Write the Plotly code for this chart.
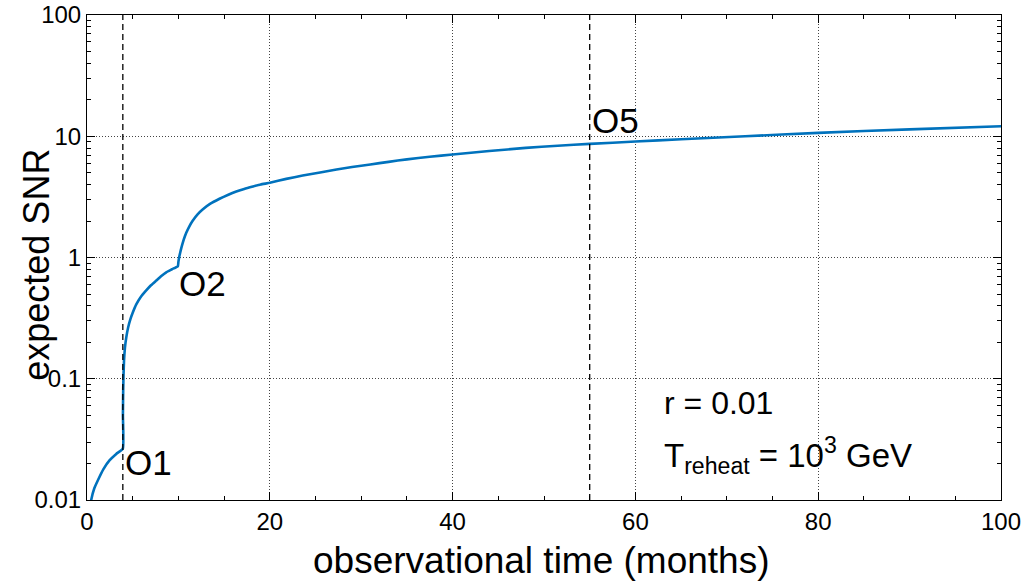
import plotly.graph_objects as go

# observational time (months) and expected SNR
time_months = [0.25, 0.46, 0.8, 1.18, 1.8, 2.46, 3.2, 3.92,
               3.93, 3.96, 4.0, 4.05, 4.15, 4.3, 4.5, 4.75, 5.0, 5.39, 5.9,
               6.48, 7.0, 7.58, 8.1, 8.67, 9.3, 9.94,
               10.0, 10.1, 10.2, 10.31, 10.5, 10.7, 10.86, 11.2, 11.58,
               12.1, 12.68, 13.5, 14.5, 15.4, 16.33, 17.2, 18.15, 19.0, 20.0,
               21.8, 23.6, 25.5, 27.3, 29.0, 31.0, 33.0, 35.0, 37.5, 40.0,
               44.0, 48.0, 51.5, 55.0, 60.0, 65.0, 72.0, 80.0, 90.0, 100.0]
snr = [0.0075, 0.0100, 0.0125, 0.0145, 0.018, 0.0212, 0.024, 0.0265,
       0.05, 0.08, 0.11, 0.14, 0.18, 0.22, 0.265, 0.31, 0.35, 0.41, 0.475,
       0.535, 0.59, 0.645, 0.70, 0.755, 0.80, 0.848,
       0.92, 1.02, 1.10, 1.19, 1.34, 1.49, 1.60, 1.81, 2.02,
       2.27, 2.50, 2.78, 3.05, 3.28, 3.50, 3.68, 3.85, 4.00, 4.13,
       4.45, 4.74, 5.03, 5.31, 5.57, 5.85, 6.15, 6.45, 6.77, 7.07,
       7.55, 8.02, 8.35, 8.65, 9.04, 9.45, 10.0, 10.67, 11.4, 12.09]

run_marks_x = [3.92, 55.0]          # dashed run boundaries
x_ticks = [0, 20, 40, 60, 80, 100]
y_ticks = [0.01, 0.1, 1, 10, 100]
y_ticktext = ["0.01", "0.1", "1", "10", "100"]
y_minor_ticks = [k * 10.0 ** e for e in (-2, -1, 0, 1) for k in range(2, 10)]

FONT = "Liberation Sans, Arial, Helvetica, sans-serif"
BLUE = "#0072BD"

fig = go.Figure()
fig.add_trace(go.Scatter(x=time_months, y=snr, mode="lines",
                         line=dict(color=BLUE, width=2.6, shape="spline", smoothing=0.4),
                         showlegend=False, hoverinfo="skip"))

for xv in run_marks_x:
    fig.add_shape(type="line", xref="x", yref="paper", x0=xv, x1=xv,
                  y0=0, y1=1, line=dict(color="black", width=1.3, dash="6px,4px"))

axis_common = dict(
    showline=True, linecolor="black", linewidth=1, mirror="allticks",
    ticks="inside", ticklen=8, tickcolor="black", tickwidth=1,
    showgrid=True, gridcolor="#444444", griddash="1px,2px", gridwidth=1,
    zeroline=False, tickfont=dict(family=FONT, size=24, color="black"),
)

fig.update_xaxes(range=[0, 100], tickvals=x_ticks, **axis_common,
                 minor=dict(dtick=5, ticks="inside", ticklen=4,
                            tickcolor="black", showgrid=False))
fig.update_yaxes(type="log", range=[-2, 2], tickvals=y_ticks,
                 ticktext=y_ticktext, **axis_common,
                 minor=dict(tickmode="array", tickvals=y_minor_ticks,
                            ticks="inside", ticklen=4, tickcolor="black",
                            showgrid=False))

ann_font = dict(family=FONT, size=35, color="black")
annotations = [
    dict(x=3.92, y=-1.69, xref="x", yref="y", text="O1", showarrow=False,
         xanchor="left", yanchor="middle", font=ann_font),
    dict(x=9.9, y=-0.214, xref="x", yref="y", text="O2", showarrow=False,
         xanchor="left", yanchor="middle", font=ann_font),
    dict(x=55.0, y=1.13, xref="x", yref="y", text="O5", showarrow=False,
         xanchor="left", yanchor="middle", font=ann_font),
    dict(x=62.9, y=-1.2, xref="x", yref="y", text="r = 0.01", showarrow=False,
         xanchor="left", yanchor="middle", font=dict(family=FONT, size=32, color="black")),
    dict(x=62.9, y=-1.63, xref="x", yref="y",
         text="T<sub>reheat</sub> = 10<sup>3</sup> GeV", showarrow=False,
         xanchor="left", yanchor="middle", font=dict(family=FONT, size=33, color="black")),
    dict(x=-0.0553, y=0.486, xref="paper", yref="paper", text="expected SNR",
         textangle=-90, showarrow=False, xanchor="center", yanchor="middle",
         font=dict(family=FONT, size=36, color="black")),
    dict(x=0.4975, y=-0.125, xref="paper", yref="paper",
         text="observational time (months)", showarrow=False,
         xanchor="center", yanchor="middle",
         font=dict(family=FONT, size=37, color="black")),
]

fig.update_layout(
    width=1026, height=582,
    margin=dict(l=87, r=25, t=15, b=82, autoexpand=False),
    paper_bgcolor="white", plot_bgcolor="white",
    annotations=annotations,
    font=dict(family=FONT, color="black"),
)

fig.write_html("out.html")
